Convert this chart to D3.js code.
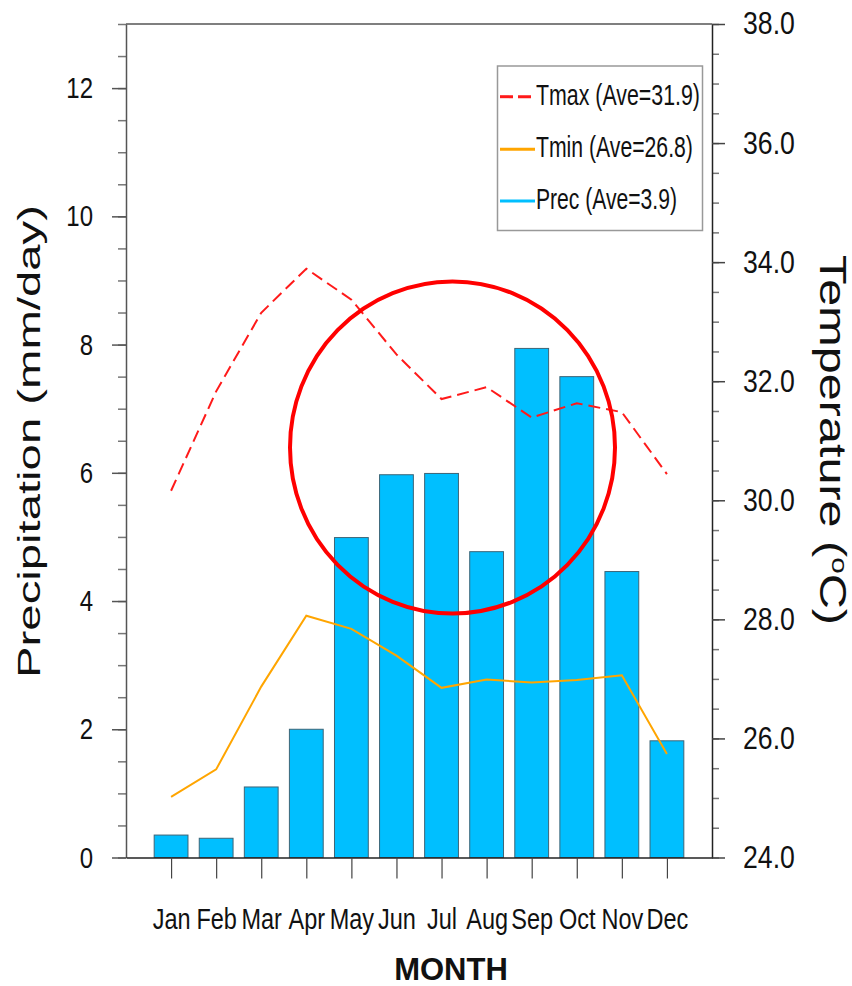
<!DOCTYPE html>
<html>
<head>
<meta charset="utf-8">
<script src="https://cdn.jsdelivr.net/npm/d3@7"></script>
<style>
  body { margin: 0; background: #fff; }
  svg { display: block; }
  .tick-label { font-family: "Liberation Sans", sans-serif; fill: #111; }
</style>
</head>
<body>
<div id="chart"></div>
<script>
//Chart data
var months = ["Jan", "Feb", "Mar", "Apr", "May", "Jun", "Jul", "Aug", "Sep", "Oct", "Nov", "Dec"];
var monthIndex = [1, 2, 3, 4, 5, 6, 7, 8, 9, 10, 11, 12];
var precValues = [0.35, 0.30, 1.10, 2.00, 4.99, 5.97, 5.99, 4.77, 7.94, 7.50, 4.46, 1.82];
var tmaxValues = [30.16, 31.83, 33.15, 33.89, 33.37, 32.45, 31.70, 31.90, 31.39, 31.63, 31.48, 30.44];
var tminValues = [25.02, 25.48, 26.87, 28.06, 27.84, 27.39, 26.85, 26.99, 26.94, 26.98, 27.06, 25.74];

//Tick values
var precTicks = [0, 2, 4, 6, 8, 10, 12];
var tempTicks = [24, 26, 28, 30, 32, 34, 36, 38];

//Legend entries
var legendLabels = ["Tmax (Ave=31.9)", "Tmin (Ave=26.8)", "Prec (Ave=3.9)"];

var width = 852, height = 986;
var plot = {left: 126, right: 712, top: 24, bottom: 857.5};

var svg = d3.select("#chart").append("svg")
    .attr("width", width)
    .attr("height", height);

//Scales
var x = d3.scaleLinear().domain([0, 13]).range([plot.left, plot.right]);
var yP = d3.scaleLinear().domain([0, 13]).range([plot.bottom, plot.top]);
var yT = d3.scaleLinear().domain([24, 38]).range([plot.bottom, plot.top]);

//squeeze a text so it fits a given length (fonts here are narrow)
function fitText(node, target) {
  var w = node.getComputedTextLength();
  return target / w;
}

//narrow the tick labels around their anchor point
function narrowTicks(sel, s) {
  sel.each(function() {
    var tx = +this.getAttribute("x") || 0;
    d3.select(this).attr("transform",
      "translate(" + tx + ",0) scale(" + s + ",1) translate(" + (-tx) + ",0)");
  });
}

//Bars
var barW = 0.75;
svg.append("g").selectAll("rect")
    .data(precValues)
  .enter().append("rect")
    .attr("x", function(d, i) { return x(monthIndex[i] - barW / 2); })
    .attr("width", x(barW) - x(0))
    .attr("y", function(d) { return yP(d); })
    .attr("height", function(d) { return yP(0) - yP(d); })
    .attr("fill", "#00bfff")
    .attr("stroke", "#3d6577")
    .attr("stroke-width", 1);

//Lines
var tLine = d3.line()
    .x(function(d, i) { return x(monthIndex[i]); })
    .y(function(d) { return yT(d); });

svg.append("path")
    .datum(tminValues)
    .attr("d", tLine)
    .attr("fill", "none")
    .attr("stroke", "#ffa500")
    .attr("stroke-width", 2);

svg.append("path")
    .datum(tmaxValues)
    .attr("d", tLine)
    .attr("fill", "none")
    .attr("stroke", "#ff1a1a")
    .attr("stroke-width", 2)
    .attr("stroke-dasharray", "12,6");

//Top border
svg.append("line")
    .attr("x1", plot.left).attr("x2", plot.right)
    .attr("y1", plot.top).attr("y2", plot.top)
    .attr("stroke", "#555").attr("stroke-width", 1.5);

//Left axis - minor then major
svg.append("g")
    .attr("transform", "translate(" + plot.left + ",0)")
    .call(d3.axisLeft(yP).tickValues(d3.range(0, 13.01, 0.5)).tickSize(8).tickFormat(""))
    .call(function(g) { g.select(".domain").remove(); g.selectAll("line").attr("stroke", "#777").attr("stroke-width", 1.5); });

var leftAxis = svg.append("g")
    .attr("transform", "translate(" + plot.left + ",0)")
    .call(d3.axisLeft(yP).tickValues(precTicks).tickSize(14).tickSizeOuter(0).tickPadding(19).tickFormat(d3.format("d")));
leftAxis.select(".domain").attr("stroke", "#555").attr("stroke-width", 1.5);
leftAxis.selectAll("line").attr("stroke", "#555").attr("stroke-width", 1.5);
leftAxis.selectAll("text").attr("class", "tick-label").style("font-size", "30px").call(narrowTicks, 0.8);

//Right axis - minor then major
svg.append("g")
    .attr("transform", "translate(" + plot.right + ",0)")
    .call(d3.axisRight(yT).tickValues(d3.range(24, 38.01, 0.5)).tickSize(7).tickFormat(""))
    .call(function(g) { g.select(".domain").remove(); g.selectAll("line").attr("stroke", "#777").attr("stroke-width", 1.5); });

var rightAxis = svg.append("g")
    .attr("transform", "translate(" + plot.right + ",0)")
    .call(d3.axisRight(yT).tickValues(tempTicks).tickSize(13).tickSizeOuter(0).tickPadding(18).tickFormat(d3.format(".1f")));
rightAxis.select(".domain").attr("stroke", "#222").attr("stroke-width", 1.5);
rightAxis.selectAll("line").attr("stroke", "#444").attr("stroke-width", 1.5);
rightAxis.selectAll("text").attr("class", "tick-label").style("font-size", "31px").call(narrowTicks, 0.86);

//Bottom axis
var bottomAxis = svg.append("g")
    .attr("transform", "translate(0," + plot.bottom + ")")
    .call(d3.axisBottom(x).tickValues(monthIndex).tickSize(21).tickSizeOuter(0).tickPadding(30)
      .tickFormat(function(d) { return months[d - 1]; }));
bottomAxis.select(".domain").attr("stroke", "#222").attr("stroke-width", 1.5);
bottomAxis.selectAll("line").attr("stroke", "#444").attr("stroke-width", 1.2);
bottomAxis.selectAll("text").attr("class", "tick-label").style("font-size", "29px").call(narrowTicks, 0.81);

//Axis titles
var precTitle = svg.append("text")
    .attr("text-anchor", "middle")
    .style("font-family", "Liberation Sans, sans-serif")
    .style("font-size", "32px")
    .attr("fill", "#111")
    .text("Precipitation (mm/day)");
var s1 = fitText(precTitle.node(), 473);
precTitle.attr("transform", "translate(40,441.5) rotate(-90) scale(" + s1 + ",1)");

var tempTitle = svg.append("text")
    .attr("text-anchor", "middle")
    .style("font-family", "Liberation Sans, sans-serif")
    .style("font-size", "36px")
    .attr("fill", "#111");
tempTitle.append("tspan").text("Temperature (");
tempTitle.append("tspan").attr("dy", "-0.55em").style("font-size", "22px").text("o");
tempTitle.append("tspan").attr("dy", "0.34em").text("C)");
var s2 = fitText(tempTitle.node(), 370);
tempTitle.attr("transform", "translate(820,440) rotate(90) scale(" + s2 + ",1)");

svg.append("text")
    .attr("x", 451).attr("y", 980)
    .attr("text-anchor", "middle")
    .style("font-family", "Liberation Sans, sans-serif")
    .style("font-weight", "bold")
    .style("font-size", "31px")
    .attr("fill", "#111")
    .text("MONTH");

//Legend
var legend = svg.append("g");
legend.append("rect")
    .attr("x", 497.5).attr("y", 66)
    .attr("width", 205).attr("height", 164.5)
    .attr("fill", "#fff")
    .attr("stroke", "#999").attr("stroke-width", 1.5);

var legendStyle = [
  {color: "#ff1a1a", dash: "13,5", lineY: 96.7, textY: 105, w: 164},
  {color: "#ffa500", dash: null, lineY: 149.3, textY: 157, w: 157},
  {color: "#00bfff", dash: null, lineY: 201, textY: 209, w: 141}
];

legendLabels.forEach(function(label, i) {
  var st = legendStyle[i];
  legend.append("line")
      .attr("x1", 500).attr("x2", 535)
      .attr("y1", st.lineY).attr("y2", st.lineY)
      .attr("stroke", st.color)
      .attr("stroke-width", 3)
      .attr("stroke-dasharray", st.dash);
  var t = legend.append("text")
      .attr("class", "tick-label")
      .style("font-size", "29px")
      .text(label);
  var sc = fitText(t.node(), st.w);
  t.attr("transform", "translate(536," + st.textY + ") scale(" + sc + ",1)");
});

//Red circle annotation
svg.append("ellipse")
    .attr("cx", 452.5).attr("cy", 447.5)
    .attr("rx", 162.5).attr("ry", 166)
    .attr("fill", "none")
    .attr("stroke", "#ff0000")
    .attr("stroke-width", 4);
</script>
</body>
</html>
